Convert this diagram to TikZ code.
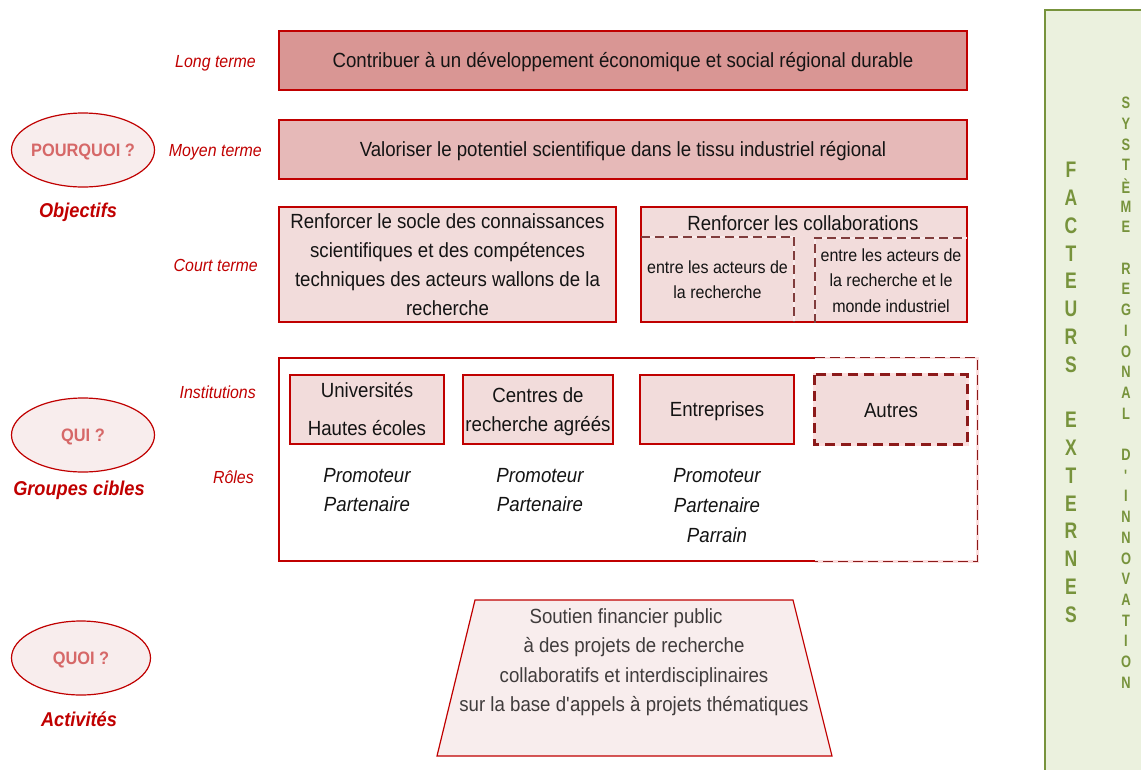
\documentclass[tikz,border=0pt]{standalone}
\usepackage{fontspec}
\setmainfont{Liberation Sans}[FakeStretch=0.91]
\newfontfamily\narrowfont{Liberation Sans}[FakeStretch=0.78]
\usetikzlibrary{shapes.geometric}

\definecolor{cred}{RGB}{192,0,0}
\definecolor{fillA}{RGB}{217,150,148}
\definecolor{fillB}{RGB}{230,185,184}
\definecolor{fillC}{RGB}{242,220,219}
\definecolor{pale}{RGB}{248,237,237}
\definecolor{qred}{RGB}{214,104,104}
\definecolor{darkdash}{RGB}{128,60,60}
\definecolor{wine}{RGB}{140,26,26}
\definecolor{seamline}{RGB}{250,235,235}
\definecolor{rosegap}{RGB}{252,222,222}
\definecolor{ink}{RGB}{20,20,20}
\definecolor{grayink}{RGB}{64,60,60}
\definecolor{gfill}{RGB}{235,241,222}
\definecolor{gline}{RGB}{119,147,60}

\newcommand\fsmain{\fontsize{20.5}{29}\selectfont}
\newcommand\fssmall{\fontsize{17.6}{25.5}\selectfont}
\newcommand\fslbl{\fontsize{17.5}{21}\selectfont}
\newcommand\fscap{\fontsize{20}{24}\selectfont}
\newcommand\fsell{\fontsize{18}{22}\selectfont}
\newcommand\fsbig{\narrowfont\fontsize{22.5}{26}\selectfont}
\newcommand\fstiny{\narrowfont\fontsize{16.5}{19}\selectfont}

\tikzset{
  box/.style={draw=cred, line width=1.6pt, inner sep=0pt, align=center,
              font=\fsmain, text=ink},
  plain/.style={inner sep=0pt, align=center, text=ink},
  oneline/.style={text height=14.7pt, text depth=0pt},
  lbl/.style={text=cred, font=\fslbl\itshape, anchor=east, inner sep=0pt,
              text height=12.5pt, text depth=0pt},
  oval/.style={ellipse, draw=cred, line width=1.2pt, fill=pale, inner sep=0pt,
               text=qred, font=\fsell\bfseries, text height=12.9pt, text depth=0pt},
  capt/.style={text=cred, font=\fscap\bfseries\itshape, inner sep=0pt,
               text height=14.3pt, text depth=0pt},
  role/.style={font=\fsmain\itshape, align=center, inner sep=0pt, text=ink},
  seam/.style={seamline, line width=2.4pt},
  darkdashes/.style={darkdash, line width=2.4pt, dash pattern=on 9pt off 5pt},
  rosebase/.style={rosegap, line width=2.6pt},
  winedashes/.style={wine, line width=1.3pt, dash pattern=on 10pt off 5pt},
  gbig/.style={text=gline, font=\fsbig\bfseries, inner sep=0pt},
  gsmall/.style={text=gline, font=\fstiny\bfseries, inner sep=0pt},
}

\begin{document}
\begin{tikzpicture}[x=1pt,y=-1pt]
\useasboundingbox (0,0) rectangle (1141,769);

% ---- external factors column ----
\path[draw=gline, fill=gfill, line width=1.6pt] (1045,10) rectangle (1170,800);
\foreach \c [count=\i from 0] in {F,A,C,T,E,U,R,S}
  \node[gbig] (fa\i) at (1071,{170+\i*27.8}) {\c};
\foreach \c [count=\i from 0] in {E,X,T,E,R,N,E,S}
  \node[gbig] (ex\i) at (1071,{420+\i*27.8}) {\c};
\foreach \c [count=\i from 0] in {S,Y,S,T,È,M,E}
  \node[gsmall] (sy\i) at (1126,{103+\i*20.7}) {\c};
\foreach \c [count=\i from 0] in {R,E,G,I,O,N,A,L}
  \node[gsmall] (re\i) at (1126,{268.6+\i*20.7}) {\c};
\foreach \c [count=\i from 0] in {D,\textquotesingle,I,N,N,O,V,A,T,I,O,N}
  \node[gsmall] (in\i) at (1126,{454.9+\i*20.7}) {\c};

% ---- objectives ----
\node[box, oneline, fill=fillA, minimum width=688, minimum height=59] (lt) at (623,60.5)
  {Contribuer à un développement économique et social régional durable};
\node[box, oneline, fill=fillB, minimum width=688, minimum height=59] (mt) at (623,149.5)
  {Valoriser le potentiel scientifique dans le tissu industriel régional};
\node[box, fill=fillC, minimum width=337, minimum height=115] (ct1) at (447.5,264.5)
  {Renforcer le socle des connaissances\\scientifiques et des compétences\\techniques des acteurs wallons de la\\recherche};
\node[box, fill=fillC, minimum width=326, minimum height=115] (ct2) at (804,264.5) {};
\node[plain, oneline, font=\fsmain] (collab) at (803,223) {Renforcer les collaborations};
\node[plain, font=\fssmall, minimum width=153, minimum height=85] (cl) at (717.5,279.5)
  {entre les acteurs de\\la recherche};
\node[plain, font=\fssmall, minimum width=152, minimum height=85] (cr) at (891,280.5)
  {entre les acteurs de\\la recherche et le\\monde industriel};
\draw[seam] (cl.north west) -- (cl.north east) -- (cl.south east);
\draw[seam] (cr.south west) -- (cr.north west) -- (cr.north east);
\draw[darkdashes] (cl.north west) -- (cl.north east) -- (cl.south east);
\draw[darkdashes] (cr.south west) -- (cr.north west) -- (cr.north east);

\node[lbl] (llt) at (256,61) {Long terme};
\node[lbl] (lmt) at (262,150) {Moyen terme};
\node[lbl] (lct) at (258,265) {Court terme};

\node[oval, minimum width=143, minimum height=74] (why) at (83,150)
  {\makebox[0pt]{POURQUOI ?}};
\node[capt] (obj) at (78,210) {Objectifs};

% ---- target groups ----
\node[inner sep=0pt, minimum width=698, minimum height=203] (grp) at (628,459.5) {};
\node[inner sep=0pt, fill=fillC, minimum width=152, minimum height=69] (aut) at (891,409.5) {};
\draw[cred, line width=1.6pt]
  (grp.north -| aut.west) -- (grp.north west) -- (grp.south west) -- (grp.south -| aut.west);
\draw[rosebase]
  (grp.north -| aut.west) -- (grp.north east) -- (grp.south east) -- (grp.south -| aut.west);
\draw[winedashes]
  (grp.north -| aut.west) -- (grp.north east) -- (grp.south east) -- (grp.south -| aut.west);

\node[box, fill=fillC, minimum width=154, minimum height=69] (uni) at (367,409.5)
  {Universités\\[9pt]Hautes écoles};
\node[box, fill=fillC, minimum width=150, minimum height=69, text depth=0pt] (crc) at (538,409.5)
  {Centres de\\recherche agréés};
\node[box, oneline, fill=fillC, minimum width=154, minimum height=69] (ent) at (717,409.5)
  {Entreprises};
\draw[rosegap, line width=3pt] (aut.north west) rectangle (aut.south east);
\draw[wine, line width=3pt, dash pattern=on 10pt off 6pt] (aut.north west) rectangle (aut.south east);
\node[plain, oneline, font=\fsmain] (autt) at (891,410) {Autres};

\node[role] (runi) at (367,490) {Promoteur\\Partenaire};
\node[role] (rcrc) at (540,490) {Promoteur\\Partenaire};
\node[role] (rent) at (717,506) {Promoteur\\[1pt]Partenaire\\[1pt]Parrain};

\node[lbl] (linst) at (256,392) {Institutions};
\node[lbl] (lrol) at (254,477) {Rôles};

\node[oval, minimum width=143, minimum height=74] (who) at (83,435)
  {\makebox[0pt]{QUI ?}};
\node[capt] (tgt) at (79,488) {Groupes cibles};

% ---- activities ----
\coordinate (t1) at (475,600);
\coordinate (t2) at (793,600);
\coordinate (t3) at (832,756);
\coordinate (t4) at (437,756);
\draw[cred, line width=1.2pt, fill=pale] (t1) -- (t2) -- (t3) -- (t4) -- cycle;
\node[plain, font=\fontsize{20.5}{29.3}\selectfont, text=grayink, text depth=0pt] (act) at (634,660)
  {Soutien financier public\hspace*{16pt}\\à des projets de recherche\\collaboratifs et interdisciplinaires\\sur la base d\textquotesingle appels à projets thématiques};

\node[oval, minimum width=139, minimum height=74] (what) at (81,658)
  {\makebox[0pt]{QUOI ?}};
\node[capt] (acts) at (79,719) {Activités};
\end{tikzpicture}
\end{document}
